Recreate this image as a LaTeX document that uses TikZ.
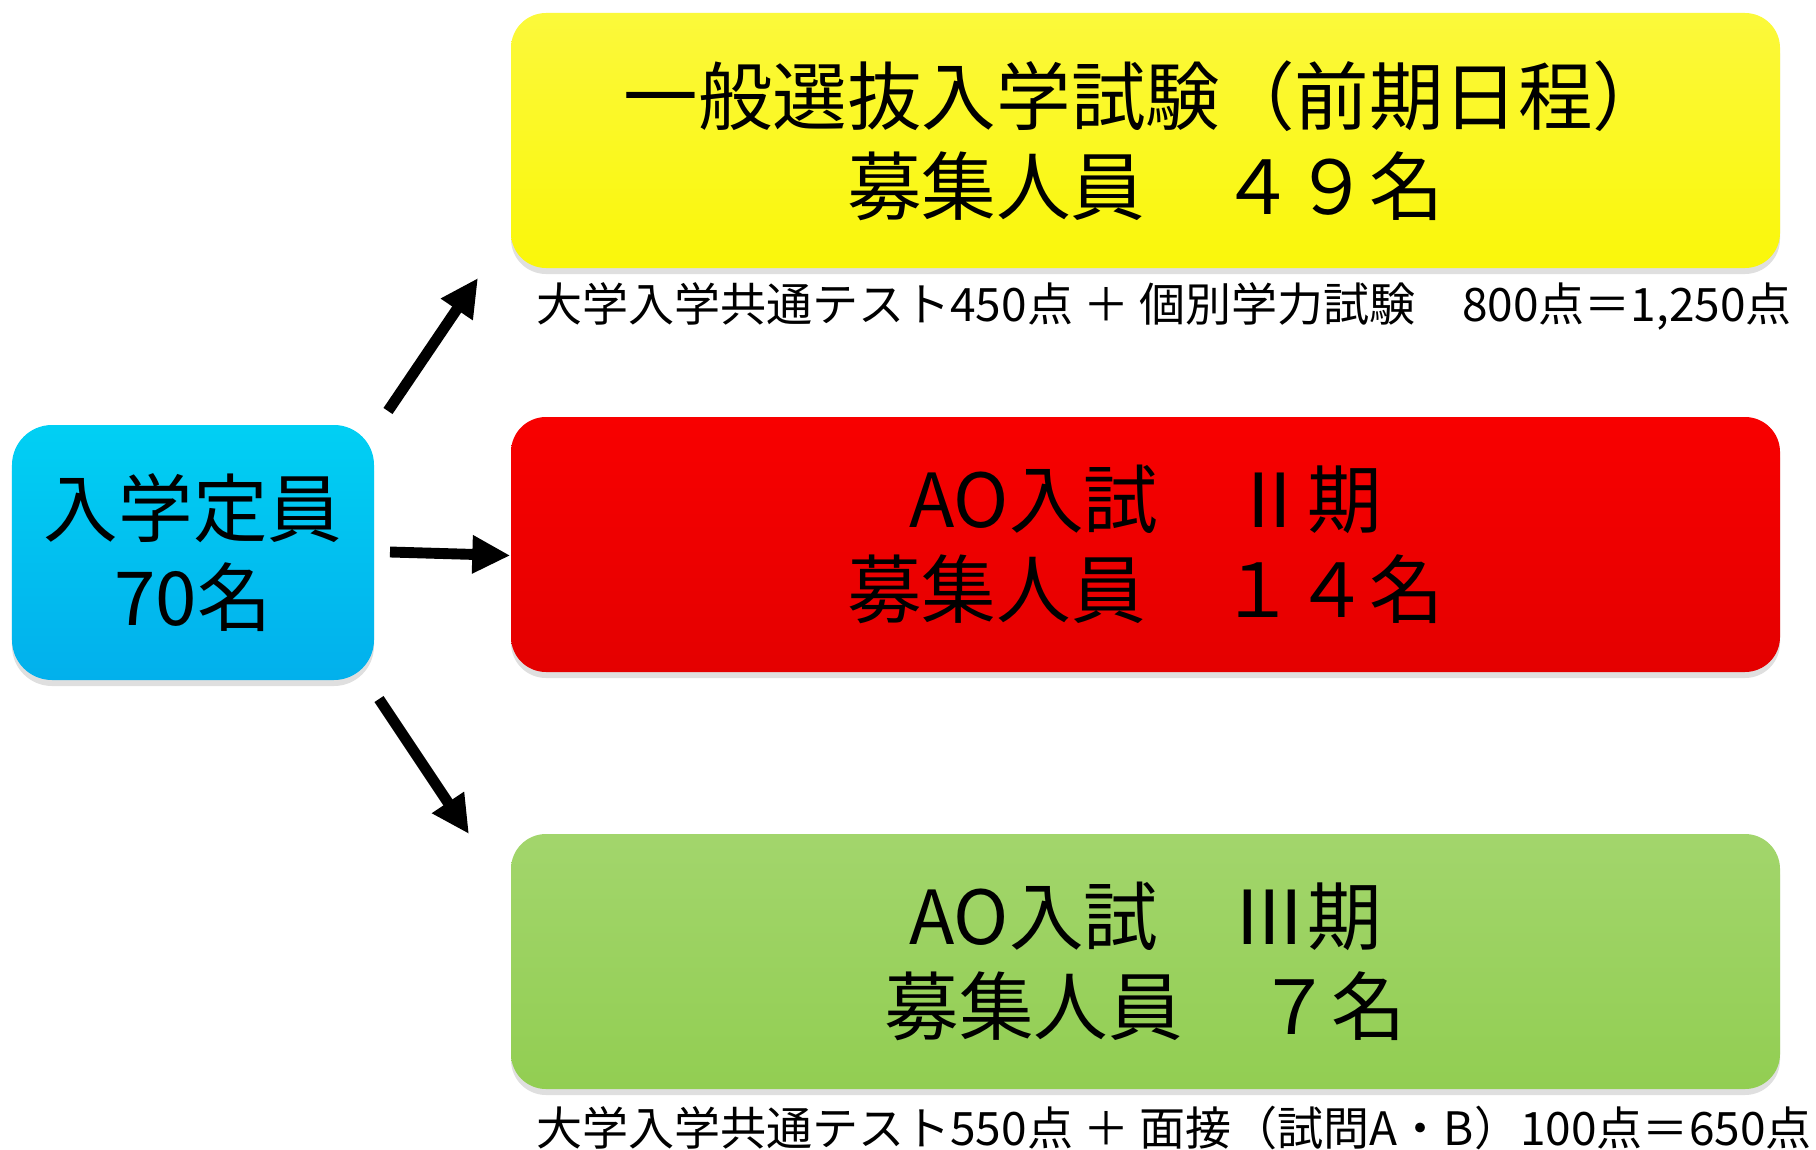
\documentclass[tikz,border=0pt]{standalone}
\usepackage{fontspec}
\setmainfont{Noto Sans CJK JP}
\usetikzlibrary{arrows.meta,shadows,calc}

\definecolor{boxyellow}{RGB}{250,247,10}
\definecolor{boxred}{RGB}{248,0,0}
\definecolor{boxgreen}{RGB}{146,206,82}
\definecolor{boxblue}{RGB}{2,176,236}

\tikzset{
  quota/.style={rounded corners=0.35cm, minimum width=12.69cm, minimum height=2.55cm,
    align=center, font=\fontsize{21.2}{25.5}\selectfont,
    drop shadow={shadow xshift=0pt, shadow yshift=-0.06cm, opacity=0.25}},
  note/.style={anchor=west, inner sep=0pt, font=\fontsize{13.1}{15}\selectfont},
  bigarrow/.style={line width=3.1pt, -{Triangle[length=0.38cm,width=0.36cm]}},
}

\begin{document}
\begin{tikzpicture}
    \useasboundingbox (0,0) rectangle (18.16,-11.49);

    % Total
    \node[quota, minimum width=3.62cm, rounded corners=0.4cm,
      top color=boxblue!60!cyan, bottom color=boxblue] (total) at (1.93,-5.525)
      {入学定員\\70名};

    % Quota boxes
    \node[quota, top color=boxyellow!80!white, bottom color=boxyellow] (general) at (11.455,-1.405)
      {一般選抜入学試験（前期日程）\\募集人員　４９名};
    \node[quota, top color=boxred, bottom color=boxred!92!black] (aoII) at (11.455,-5.445)
      {AO入試　Ⅱ期\\募集人員　１４名};
    \node[quota, top color=boxgreen!85!white, bottom color=boxgreen] (aoIII) at (11.455,-9.615)
      {AO入試　Ⅲ期\\募集人員　７名};

    % Notes
    \node[note] (generalnote) at ($(general.south west)+(0.25,-0.38)$)
      {大学入学共通テスト450点 ＋ 個別学力試験　800点＝1,250点};
    \node[note] (aoIIInote) at ($(aoIII.south west)+(0.25,-0.38)$)
      {大学入学共通テスト550点 ＋ 面接（試問A・B）100点＝650点};

    % Arrows
    \coordinate (upstart) at (3.88,-4.11);
    \coordinate (upend) at (4.78,-2.78);
    \coordinate (midstart) at (3.90,-5.52);
    \coordinate (downstart) at (3.79,-6.99);
    \coordinate (downend) at (4.69,-8.34);

    \draw[bigarrow] (upstart) -- (upend);
    \draw[bigarrow] (midstart) -- ($(aoII.west)+(0,-0.11)$);
    \draw[bigarrow] (downstart) -- (downend);
\end{tikzpicture}
\end{document}
